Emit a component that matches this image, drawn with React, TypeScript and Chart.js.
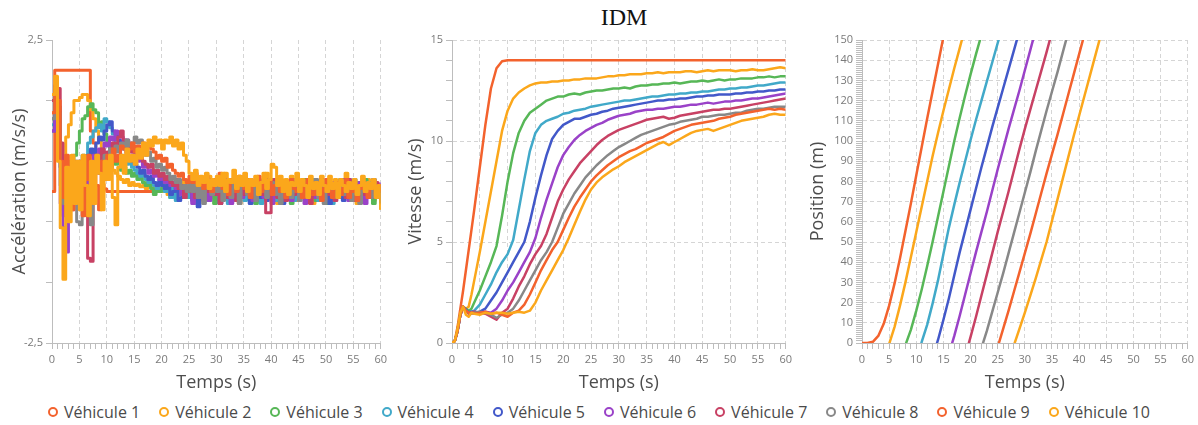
import React, { useEffect, useRef } from 'react';
import { Chart, registerables } from 'chart.js';

Chart.register(...registerables);
Chart.defaults.font.family = "'Open Sans', 'Noto Sans', sans-serif";

const TITLE = 'IDM';
const X_TITLE = 'Temps (s)';
const Y_TITLES = ['Accélération (m/s/s)', 'Vitesse (m/s)', 'Position (m)'];
const VEHICLES = ['Véhicule 1', 'Véhicule 2', 'Véhicule 3', 'Véhicule 4', 'Véhicule 5', 'Véhicule 6', 'Véhicule 7', 'Véhicule 8', 'Véhicule 9', 'Véhicule 10'];
const COLORS = ['#f3622d', '#fba71b', '#57b757', '#41a9c9', '#4258c9', '#9a42c8', '#c84164', '#888888', '#f3622d', '#fba71b'];
const ACC_Y_TICKS = [-2.5, -1.5, -0.5, 0.5, 1.5, 2.5];

// ---------- Acceleration (m/s/s), every 0.5 s ----------
const ACC_T = [
  0,0.5,1,1.5,2,2.5,3,3.5,4,4.5,
  5,5.5,6,6.5,7,7.5,8,8.5,9,9.5,
  10,10.5,11,11.5,12,12.5,13,13.5,14,14.5,
  15,15.5,16,16.5,17,17.5,18,18.5,19,19.5,
  20,20.5,21,21.5,22,22.5,23,23.5,24,24.5,
  25,25.5,26,26.5,27,27.5,28,28.5,29,29.5,
  30,30.5,31,31.5,32,32.5,33,33.5,34,34.5,
  35,35.5,36,36.5,37,37.5,38,38.5,39,39.5,
  40,40.5,41,41.5,42,42.5,43,43.5,44,44.5,
  45,45.5,46,46.5,47,47.5,48,48.5,49,49.5,
  50,50.5,51,51.5,52,52.5,53,53.5,54,54.5,
  55,55.5,56,56.5,57,57.5,58,58.5,59,59.5,
  60,
];
const ACC_V1 = [
  0,2,2,2,2,2,2,2,2,2,
  2,2,2,2,1.0,0.8,0.55,0.3,0.12,0.04,
  0,0,0,0,0,0,0,0,0,0,
  0,0,0,0,0,0,0,0,0,0,
  0,0,0,0,0,0,0,0,0,0,
  0,0,0,0,0,0,0,0,0,0,
  0,0,0,0,0,0,0,0,0,0,
  0,0,0,0,0,0,0,0,0,0,
  0,0,0,0,0,0,0,0,0,0,
  0,0,0,0,0,0,0,0,0,0,
  0,0,0,0,0,0,0,0,0,0,
  0,0,0,0,0,0,0,0,0,0,
  0,
];
const ACC_V2 = [
  1.3,1.7,1.4,0.6,0.4,0.9,1.1,1.3,1.5,1.5,
  1.55,1.6,1.6,1.5,1.35,1.2,1.0,0.85,0.7,0.6,
  0.5,0.45,0.35,0.3,0.25,0.2,0.15,0.2,0.1,0.15,
  0.1,0.12,0.08,0.1,0.05,0.08,0.1,0.03,0.06,0.05,
  0.0,0.1,-0.05,0.15,0.05,-0.1,0.1,0.0,0.2,-0.05,
  0.05,-0.1,0.12,0.0,0.2,-0.05,0.1,0.25,-0.1,0.05,
  0.15,-0.15,0.1,0.3,0.0,-0.1,0.2,0.05,-0.2,0.1,
  0.25,0.0,-0.05,0.15,-0.15,0.2,0.1,-0.1,0.3,0.05,
  -0.05,0.2,-0.2,0.1,0.0,0.15,-0.1,0.25,0.05,-0.15,
  0.1,0.2,-0.05,0.0,0.15,-0.2,0.1,0.05,0.25,-0.1,
  0.0,0.15,-0.15,0.2,0.05,-0.05,0.1,0.3,-0.1,0.0,
  0.15,-0.2,0.1,0.05,-0.1,0.2,0.0,-0.15,0.1,0.05,
  -0.3,
];
const ACC_V3 = [
  1.2,1.6,1.3,0.4,-0.2,0.3,0.5,0.4,0.6,0.8,
  1.0,1.2,1.25,1.4,1.45,1.35,1.3,1.1,1.15,0.95,
  0.8,0.7,0.6,0.45,0.5,0.35,0.4,0.3,0.35,0.25,
  0.3,0.2,0.25,0.15,0.1,0.2,0.05,-0.05,0.1,0.0,
  0.05,0.15,0.0,-0.1,0.05,0.1,-0.05,0.0,0.1,-0.1,
  0.1,-0.05,0.15,-0.15,0.05,0.2,-0.1,0.0,0.1,-0.2,
  0.05,0.15,-0.1,0.2,0.0,-0.05,0.1,-0.15,0.15,0.05,
  -0.1,0.2,0.0,0.1,-0.2,0.05,0.15,-0.05,0.1,-0.1,
  0.2,0.0,-0.15,0.1,0.05,-0.05,0.15,-0.2,0.1,0.0,
  0.05,-0.1,0.2,0.1,-0.05,0.15,-0.15,0.0,0.1,0.05,
  -0.2,0.15,0.0,0.1,-0.1,0.2,0.05,-0.05,0.1,-0.15,
  0.0,0.15,-0.1,0.05,0.2,-0.05,0.1,-0.2,0.05,0.1,
  0.0,
];
const ACC_V4 = [
  1.1,1.6,1.4,0.5,-0.3,0.1,0.4,-0.2,0.3,0.5,
  0.3,0.6,0.5,0.8,0.9,1.0,1.05,1.1,1.0,1.2,
  1.15,1.05,0.95,0.8,0.75,0.6,0.55,0.45,0.5,0.4,
  0.35,0.3,0.25,0.3,0.2,0.15,0.2,0.1,0.05,0.15,
  0.1,0.0,0.05,-0.1,0.1,-0.15,0.05,0.1,0.0,-0.05,
  -0.1,0.05,-0.2,0.1,0.0,0.15,-0.15,0.05,0.2,-0.05,
  0.1,-0.1,0.0,0.15,-0.2,0.05,0.1,-0.05,0.2,0.0,
  -0.15,0.1,0.05,-0.1,0.15,0.0,-0.2,0.1,0.2,-0.05,
  0.05,-0.15,0.15,0.0,0.1,-0.1,0.05,0.2,-0.15,0.0,
  0.1,0.05,-0.1,0.15,-0.05,0.2,0.0,-0.15,0.1,0.05,
  -0.05,0.15,-0.2,0.1,0.0,0.05,-0.1,0.15,0.1,-0.05,
  0.2,-0.15,0.0,0.1,-0.05,0.15,0.05,-0.1,0.0,0.1,
  0.05,
];
const ACC_V5 = [
  1.0,1.5,1.3,0.4,-0.4,0.2,-0.1,0.3,0.1,0.4,
  0.2,0.5,0.4,0.6,0.7,0.6,0.8,0.9,0.85,1.0,
  1.1,1.15,1.0,0.95,0.85,0.8,0.7,0.65,0.55,0.5,
  0.45,0.4,0.3,0.35,0.25,0.2,0.25,0.15,0.1,0.2,
  0.1,0.05,0.15,-0.05,0.0,0.1,-0.15,-0.1,0.05,0.0,
  0.0,-0.15,0.1,-0.25,0.05,0.15,-0.1,0.2,-0.05,0.0,
  0.1,-0.2,0.15,0.05,-0.1,0.0,0.2,-0.15,0.1,0.05,
  -0.05,0.15,-0.2,0.0,0.1,0.2,-0.1,0.05,-0.15,0.1,
  0.0,0.15,-0.05,0.2,-0.2,0.05,0.1,-0.1,0.15,0.0,
  -0.05,0.1,0.05,-0.15,0.2,0.0,-0.1,0.15,-0.05,0.1,
  0.05,-0.2,0.1,0.0,0.15,-0.1,-0.15,0.05,0.2,0.0,
  -0.1,0.1,0.05,-0.15,0.15,0.0,-0.05,0.2,-0.1,0.05,
  0.1,
];
const ACC_V6 = [
  1.0,1.5,1.2,-0.2,-0.6,-1.0,-0.3,0.2,-0.1,0.3,
  0.5,0.1,0.3,-0.2,0.4,0.6,0.5,0.7,0.6,0.8,
  0.75,0.9,0.85,1.0,0.95,0.9,0.8,0.85,0.7,0.65,
  0.6,0.5,0.55,0.4,0.45,0.3,0.35,0.25,0.3,0.2,
  0.25,0.15,0.2,0.1,0.15,0.05,0.1,-0.05,0.1,0.0,
  0.1,-0.2,0.05,0.15,-0.1,0.0,0.2,-0.15,0.1,-0.05,
  0.15,0.0,-0.1,0.2,0.05,-0.2,0.1,0.0,0.15,-0.1,
  0.05,0.2,-0.05,-0.15,0.1,0.0,0.15,-0.1,0.05,0.2,
  -0.2,0.1,0.0,0.05,-0.1,0.15,0.1,-0.15,0.0,0.2,
  -0.05,0.1,-0.2,0.05,0.15,0.0,-0.1,0.1,0.2,-0.15,
  0.05,0.0,0.15,-0.1,0.1,-0.05,0.2,0.0,-0.15,0.1,
  0.05,-0.1,0.15,0.0,-0.2,0.1,0.05,0.15,-0.05,0.0,
  0.15,
];
const ACC_V7 = [
  1.5,1.75,1.7,0.8,0.2,-0.4,0.3,-0.3,0.5,0.2,
  -0.2,0.4,0.1,-1.1,-1.15,0.3,0.6,0.4,0.7,0.5,
  0.65,0.6,0.8,0.7,0.9,1.0,0.85,0.75,0.8,0.65,
  0.7,0.55,0.6,0.5,0.45,0.4,0.45,0.3,0.35,0.25,
  0.3,0.2,0.25,0.15,0.1,0.2,0.05,0.1,-0.1,0.05,
  0.0,0.15,-0.1,0.2,0.05,-0.15,0.1,0.0,0.2,-0.05,
  0.1,-0.2,0.15,0.05,-0.1,0.2,0.0,-0.15,0.1,0.15,
  -0.05,0.05,0.2,-0.1,0.0,0.15,-0.05,0.1,-0.35,-0.35,
  0.1,0.2,-0.1,0.05,0.15,-0.15,0.0,0.1,-0.05,0.2,
  0.05,-0.1,0.15,0.0,-0.2,0.1,0.05,0.15,-0.1,0.0,
  0.2,-0.05,0.1,-0.15,0.05,0.15,0.0,-0.1,0.2,0.05,
  -0.15,0.1,0.0,0.15,-0.05,0.1,-0.1,0.05,0.15,0.0,
  0.05,
];
const ACC_V8 = [
  1.2,1.6,1.3,0.1,-0.2,0.4,-0.1,0.5,0.2,-0.5,
  -0.55,0.3,0.5,0.2,-0.55,0.4,0.6,0.3,0.5,0.6,
  0.5,0.7,0.6,0.75,0.65,0.8,0.7,0.85,0.75,0.8,
  0.9,0.8,0.85,0.7,0.6,0.65,0.5,0.55,0.4,0.45,
  0.35,0.4,0.3,0.2,0.25,0.15,0.2,0.05,0.1,0.0,
  0.15,0.0,0.2,-0.1,0.1,-0.2,0.05,0.15,-0.05,0.1,
  0.0,0.2,-0.15,0.1,0.05,-0.1,0.15,0.0,-0.2,0.1,
  0.2,-0.05,0.05,0.15,-0.15,0.1,0.0,0.2,-0.1,0.05,
  0.15,-0.05,0.1,-0.2,0.0,0.15,0.05,-0.1,0.2,0.0,
  -0.15,0.1,0.05,0.15,-0.05,0.0,0.2,-0.1,0.1,-0.2,
  0.05,0.15,0.0,-0.1,0.1,0.2,-0.05,0.0,0.15,-0.15,
  0.1,0.05,-0.2,0.15,0.0,0.1,-0.1,0.2,-0.05,0.05,
  -0.2,
];
const ACC_V9 = [
  1.3,1.7,1.5,0.5,-0.1,0.6,0.2,-0.3,0.4,0.1,
  0.5,-0.4,0.2,0.6,-0.2,0.4,0.1,-0.3,0.5,0.2,
  0.6,0.4,0.7,0.5,0.6,0.75,0.7,0.6,0.7,0.8,
  0.65,0.75,0.7,0.8,0.75,0.8,0.7,0.65,0.55,0.6,
  0.5,0.55,0.4,0.45,0.35,0.3,0.25,0.3,0.2,0.15,
  0.25,0.15,0.3,0.1,0.2,0.05,0.25,0.1,0.0,0.2,
  0.15,0.3,0.05,0.1,-0.05,0.2,0.15,0.0,0.25,0.1,
  0.05,0.2,-0.1,0.15,0.1,0.25,0.0,0.15,0.05,0.2,
  -0.05,0.1,0.2,0.0,0.15,-0.1,0.1,0.2,0.05,0.0,
  0.15,-0.1,0.1,0.2,0.0,-0.05,0.15,0.1,-0.15,0.05,
  0.2,0.0,-0.1,0.1,0.15,-0.05,0.05,0.2,-0.1,0.0,
  0.1,-0.15,0.05,0.15,0.0,-0.1,0.1,0.05,-0.05,0.1,
  0.0,
];
const ACC_V10 = [
  1.6,1.9,0.5,-0.6,-1.45,0.4,-0.5,0.6,-0.2,0.5,
  -0.3,0.6,0.1,-0.4,0.5,-0.2,0.6,0.3,-0.3,0.5,
  0.2,0.6,-0.1,-0.55,0.4,0.6,0.3,0.7,0.5,0.6,
  0.45,0.7,0.55,0.8,0.6,0.85,0.75,0.9,0.8,0.85,
  0.7,0.85,0.8,0.9,0.75,0.85,0.7,0.8,0.6,0.5,
  0.3,0.2,0.35,0.1,0.25,0.15,0.3,0.05,0.2,0.1,
  0.25,0.1,0.3,0.0,0.2,0.15,0.35,0.05,0.25,0.1,
  0.3,0.0,0.2,0.1,0.25,-0.05,0.15,0.3,0.05,0.2,
  0.45,0.4,0.1,0.25,0.0,0.2,-0.05,0.15,0.1,0.3,
  0.0,0.2,0.1,-0.1,0.25,0.05,0.15,-0.05,0.2,0.1,
  0.0,0.25,0.05,0.15,-0.1,0.2,0.1,0.0,0.15,0.05,
  0.2,-0.05,0.1,0.25,0.0,0.15,0.05,0.2,-0.1,0.1,
  -0.3,
];

// ---------- Speed (m/s) ----------
const VEL_T = [0,0.5,1,1.5,2,2.5,3,3.5,4,
  5,6,7,8,9,10,11,12,13,14,
  15,16,17,18,19,20,21,22,23,24,
  25,26,27,28,29,30,31,32,33,34,
  35,36,37,38,39,40,41,42,43,44,
  45,46,47,48,49,50,51,52,53,54,
  55,56,57,58,59,60];
const VEL_V1 = [0,0.1,0.8,1.7,2.6,3.6,4.6,5.6,6.6,
  8.7,10.8,12.6,13.6,13.95,14.0,14.0,14.0,14.0,14.0,
  14.0,14.0,14.0,14.0,14.0,14.0,14.0,14.0,14.0,14.0,
  14.0,14.0,14.0,14.0,14.0,14.0,14.0,14.0,14.0,14.0,
  14.0,14.0,14.0,14.0,14.0,14.0,14.0,14.0,14.0,14.0,
  14.0,14.0,14.0,14.0,14.0,14.0,14.0,14.0,14.0,14.0,
  14.0,14.0,14.0,14.0,14.0,14.0];
const VEL_V2 = [0,0.1,0.6,1.4,1.8,1.7,1.8,2.4,3.1,
  4.5,6.0,7.5,9.0,10.5,11.5,12.1,12.4,12.6,12.75,
  12.85,12.9,12.9,12.95,12.95,13.0,13.0,13.05,13.05,13.1,
  13.1,13.1,13.15,13.2,13.2,13.25,13.25,13.3,13.3,13.3,
  13.35,13.35,13.4,13.35,13.4,13.4,13.4,13.45,13.45,13.4,
  13.45,13.5,13.45,13.5,13.5,13.5,13.45,13.5,13.5,13.55,
  13.5,13.5,13.55,13.6,13.65,13.6];
const VEL_V3 = [0,0.1,0.6,1.4,1.8,1.7,1.6,1.7,2.0,
  2.6,3.3,4.0,4.8,6.3,8.0,9.4,10.4,11.0,11.4,
  11.6,11.8,12.0,12.1,12.2,12.2,12.3,12.35,12.3,12.4,
  12.45,12.5,12.5,12.55,12.6,12.6,12.65,12.6,12.7,12.75,
  12.75,12.8,12.8,12.85,12.85,12.9,12.85,12.9,12.95,12.95,
  13.0,12.95,13.0,13.05,13.0,13.05,13.05,13.1,13.1,13.1,
  13.15,13.15,13.2,13.15,13.2,13.2];
const VEL_V4 = [0,0.1,0.6,1.4,1.75,1.6,1.5,1.55,1.6,
  1.9,2.4,2.9,3.5,4.0,4.4,5.1,6.6,8.1,9.5,
  10.4,10.8,11.0,11.1,11.2,11.35,11.4,11.5,11.55,11.6,
  11.7,11.75,11.8,11.85,11.9,11.95,12.0,12.0,12.05,12.1,
  12.15,12.2,12.2,12.25,12.3,12.3,12.35,12.35,12.4,12.4,
  12.45,12.45,12.5,12.55,12.55,12.6,12.6,12.65,12.65,12.7,
  12.75,12.75,12.8,12.85,12.9,12.9];
const VEL_V5 = [0,0.1,0.6,1.4,1.8,1.65,1.5,1.55,1.5,
  1.55,1.7,2.1,2.5,3.0,3.5,4.0,4.5,5.0,6.0,
  7.2,8.3,9.3,10.1,10.5,10.8,10.95,11.1,11.1,11.2,
  11.3,11.35,11.45,11.5,11.6,11.65,11.7,11.75,11.8,11.85,
  11.9,11.95,12.0,12.0,12.05,12.05,12.1,12.1,12.15,12.2,
  12.2,12.25,12.25,12.3,12.3,12.3,12.35,12.35,12.4,12.4,
  12.45,12.45,12.5,12.5,12.55,12.55];
const VEL_V6 = [0,0.1,0.6,1.4,1.8,1.6,1.5,1.5,1.55,
  1.5,1.55,1.5,1.7,2.1,2.6,3.0,3.5,4.0,4.5,
  5.2,6.2,7.1,7.9,8.7,9.3,9.7,10.05,10.3,10.5,
  10.65,10.8,10.9,11.05,11.15,11.25,11.3,11.35,11.45,11.5,
  11.55,11.55,11.6,11.6,11.65,11.7,11.7,11.75,11.8,11.8,
  11.85,11.9,11.85,11.9,11.95,11.95,12.0,12.0,12.05,12.1,
  12.1,12.15,12.2,12.25,12.3,12.35];
const VEL_V7 = [0,0.1,0.6,1.4,1.8,1.6,1.45,1.5,1.55,
  1.5,1.45,1.3,1.15,1.5,1.7,2.2,2.8,3.3,3.9,
  4.4,4.8,5.4,6.2,7.0,7.6,8.1,8.5,8.9,9.2,
  9.5,9.8,10.05,10.25,10.4,10.55,10.65,10.75,10.85,10.95,
  11.05,11.1,11.15,11.2,11.1,11.15,11.25,11.3,11.35,11.4,
  11.45,11.5,11.55,11.55,11.6,11.6,11.65,11.7,11.75,11.8,
  11.85,11.9,11.95,12.0,12.05,12.1];
const VEL_V8 = [0,0.1,0.6,1.4,1.8,1.6,1.5,1.45,1.5,
  1.55,1.5,1.4,1.25,1.4,1.5,1.7,2.1,2.6,3.1,
  3.6,4.1,4.5,5.0,5.7,6.4,6.9,7.4,7.8,8.2,
  8.5,8.8,9.05,9.3,9.5,9.7,9.85,10.0,10.15,10.3,
  10.4,10.5,10.6,10.7,10.8,10.85,10.95,11.0,11.05,11.1,
  11.2,11.2,11.25,11.3,11.3,11.35,11.4,11.4,11.5,11.55,
  11.6,11.6,11.65,11.7,11.7,11.7];
const VEL_V9 = [0,0.1,0.6,1.4,1.8,1.6,1.5,1.5,1.45,
  1.5,1.55,1.45,1.5,1.4,1.3,1.5,1.6,1.9,2.4,
  3.0,3.6,4.1,4.6,5.0,5.6,6.2,6.75,7.2,7.6,
  8.0,8.3,8.55,8.8,9.0,9.2,9.35,9.5,9.6,9.75,
  9.9,10.0,10.1,10.2,10.35,10.5,10.6,10.7,10.8,10.85,
  10.9,10.95,11.0,11.1,11.15,11.2,11.3,11.35,11.4,11.45,
  11.5,11.55,11.6,11.55,11.6,11.55];
const VEL_V10 = [0,0.1,0.7,1.5,1.8,1.4,1.3,1.5,1.45,
  1.4,1.5,1.45,1.5,1.5,1.45,1.5,1.55,1.5,1.6,
  2.0,2.6,3.1,3.6,4.1,4.6,5.2,5.85,6.5,7.1,
  7.6,7.95,8.2,8.4,8.6,8.75,8.95,9.1,9.25,9.4,
  9.55,9.7,9.85,9.95,9.8,9.95,10.1,10.25,10.4,10.5,
  10.55,10.6,10.5,10.6,10.7,10.8,10.9,11.0,11.05,11.1,
  11.15,11.2,11.3,11.35,11.3,11.3];

// ---------- Position (m), every 1 s ----------
const POS_T = [0,1,2,3,4,5,6,7,8,9,10,11,12,13,14,15,16,17,18,19,20,21,22,23,24,25,26,27,28,29,30,31,32,33,34,35,36,37,38,39,40,41,42,43,44,45];
const POS_V1 = [0,0,0.6,3.5,9.5,18.5,29.5,42,55.5,69,83,97,111,124.5,138,151.5,165,
  null,null,null,null,null,null,null,null,null,null,null,null,null,null,null,null,null,null,null,null,null,null,null,null,null,null,null,null,null];
const POS_V2 = [null,null,null,null,null,
  -0.5,8,18.5,30,42.5,55,67.5,80,92.5,104,115,125.5,136,146,156,
  null,null,null,null,null,null,null,null,null,null,null,null,null,null,null,null,null,null,null,null,null,null,null,null,null,null];
const POS_V3 = [null,null,null,null,null,null,null,null,
  -1,6.5,16,26.5,38,50,62.5,75,87.5,100,111.5,122.5,133,143,152.5,162,
  null,null,null,null,null,null,null,null,null,null,null,null,null,null,null,null,null,null,null,null,null,null];
const POS_V4 = [null,null,null,null,null,null,null,null,null,null,
  -9,0.5,9,19.5,31,44,57,68.5,79.5,90,100.5,110.5,120,129.5,139,148.5,158,
  null,null,null,null,null,null,null,null,null,null,null,null,null,null,null,null,null,null,null];
const POS_V5 = [null,null,null,null,null,null,null,null,null,null,null,null,null,
  -7,1.5,11.5,22,33.5,45,55.5,66,76.5,87,97,107,116.5,126,135.5,145,154.5,
  null,null,null,null,null,null,null,null,null,null,null,null,null,null,null,null];
const POS_V6 = [null,null,null,null,null,null,null,null,null,null,null,null,null,null,null,null,
  -5.5,3.5,13.5,24,34.5,45,55,65,75.5,86,96,106,115.5,125,135,145,155,
  null,null,null,null,null,null,null,null,null,null,null,null,null];
const POS_V7 = [null,null,null,null,null,null,null,null,null,null,null,null,null,null,null,null,null,null,null,
  -6.5,3,13,23.5,34,44.5,55,65,75,85.5,96,106,115.5,125,134.5,144,154,
  null,null,null,null,null,null,null,null,null,null];
const POS_V8 = [null,null,null,null,null,null,null,null,null,null,null,null,null,null,null,null,null,null,null,null,null,null,
  -2.5,6,15.5,25,34.5,44.5,54.5,64.5,74.5,84.5,95,105,115,124.5,134,144,154,
  null,null,null,null,null,null,null];
const POS_V9 = [null,null,null,null,null,null,null,null,null,null,null,null,null,null,null,null,null,null,null,null,null,null,null,null,null,
  -2,7,16,25.5,35,44.5,54,64,74,84,93.5,103,113,123,133,143,153,
  null,null,null,null];
const POS_V10 = [null,null,null,null,null,null,null,null,null,null,null,null,null,null,null,null,null,null,null,null,null,null,null,null,null,null,null,null,
  -1,7,15,23.5,32,41,50,60.5,71,81.5,92,102.5,112.5,122.5,132.5,142.5,152.5,
  null];

const ACC_SERIES = [ACC_V1, ACC_V2, ACC_V3, ACC_V4, ACC_V5, ACC_V6, ACC_V7, ACC_V8, ACC_V9, ACC_V10];
const VEL_SERIES = [VEL_V1, VEL_V2, VEL_V3, VEL_V4, VEL_V5, VEL_V6, VEL_V7, VEL_V8, VEL_V9, VEL_V10];
const POS_SERIES = [POS_V1, POS_V2, POS_V3, POS_V4, POS_V5, POS_V6, POS_V7, POS_V8, POS_V9, POS_V10];

const AXIS_GREY = '#bdbdbd';
const GRID_GREY = '#d5d5d5';
const TICK_TEXT = '#7a7a7a';
const TITLE_TEXT = '#4d4d4d';
const TRANSPARENT = 'rgba(0,0,0,0)';

function toPoints(times: number[], vals: (number | null)[]) {
  return vals.map((v, i) => ({ x: times[i], y: v }));
}

function makeX(): any {
  return {
    type: 'linear',
    min: 0,
    max: 60,
    ticks: {
      stepSize: 1,
      autoSkip: false,
      maxRotation: 0,
      minRotation: 0,
      color: TICK_TEXT,
      font: { size: 11 },
      padding: 4,
      callback: (v: number) => (v % 5 === 0 ? String(v) : ''),
    },
    grid: {
      color: (c: any) => (c.tick && c.tick.value % 5 === 0 ? GRID_GREY : TRANSPARENT),
      tickColor: AXIS_GREY,
      tickLength: 6,
      lineWidth: 1,
    },
    border: { color: AXIS_GREY, width: 1, dash: [4, 3] },
    title: { display: true, text: X_TITLE, color: TITLE_TEXT, font: { size: 18 }, padding: { top: 0, bottom: 6 } },
    afterFit: (s: any) => { s.height = 57; },
  };
}

type Panel = {
  times: number[];
  series: (number | null)[][];
  yTitle: string;
  yMin: number;
  yMax: number;
  yStep?: number;
  yFixedTicks?: number[];
  yMajor: (v: number) => boolean;
  yLabel: (v: number) => string;
  yGridOnArea: boolean;
  yWidth: number;
  titlePad: number;
  padRight: number;
  lineWidth: number;
  stepped: boolean;
};

function makeConfig(p: Panel): any {
  const y: any = {
    type: 'linear',
    min: p.yMin,
    max: p.yMax,
    ticks: {
      autoSkip: false,
      color: TICK_TEXT,
      font: { size: 11 },
      padding: 3,
      callback: (v: number) => p.yLabel(v),
    },
    grid: {
      drawOnChartArea: p.yGridOnArea,
      color: (c: any) => (c.tick && p.yMajor(c.tick.value) ? GRID_GREY : TRANSPARENT),
      tickColor: AXIS_GREY,
      tickLength: 6,
      lineWidth: 1,
    },
    border: { color: AXIS_GREY, width: 1, dash: [4, 3] },
    title: { display: true, text: p.yTitle, color: TITLE_TEXT, font: { size: 18 }, padding: { top: p.titlePad, bottom: 0 } },
    afterFit: (s: any) => { s.width = p.yWidth; },
  };
  if (p.yStep) y.ticks.stepSize = p.yStep;
  if (p.yFixedTicks) {
    const fixed = p.yFixedTicks;
    y.afterBuildTicks = (s: any) => { s.ticks = fixed.map((v) => ({ value: v })); };
  }
  return {
    type: 'line',
    data: {
      datasets: p.series.map((vals, k) => ({
        label: VEHICLES[k],
        data: toPoints(p.times, vals),
        borderColor: COLORS[k],
        backgroundColor: COLORS[k],
        borderWidth: p.lineWidth,
        borderJoinStyle: 'round',
        pointRadius: 0,
        tension: 0,
        stepped: p.stepped,
        fill: false,
        spanGaps: false,
        order: VEHICLES.length - k,
      })),
    },
    options: {
      responsive: false,
      animation: false,
      devicePixelRatio: 1,
      events: [],
      layout: { padding: { top: 10, right: p.padRight, bottom: 0, left: 0 } },
      plugins: { legend: { display: false }, tooltip: { enabled: false }, title: { display: false } },
      scales: { x: makeX(), y },
    },
  };
}

const fmtComma = (v: number) => String(v).replace('.', ',');

export default function App() {
  const r1 = useRef<HTMLCanvasElement>(null);
  const r2 = useRef<HTMLCanvasElement>(null);
  const r3 = useRef<HTMLCanvasElement>(null);

  useEffect(() => {
    const charts: Chart[] = [];
    charts.push(new Chart(r1.current as HTMLCanvasElement, makeConfig({
      times: ACC_T,
      series: ACC_SERIES,
      yTitle: Y_TITLES[0],
      yMin: -2.5,
      yMax: 2.5,
      yFixedTicks: ACC_Y_TICKS,
      yMajor: () => false,
      yLabel: (v) => (v === 2.5 || v === -2.5 ? fmtComma(v) : ''),
      yGridOnArea: false,
      yWidth: 52,
      titlePad: 9,
      padRight: 10,
      lineWidth: 3,
      stepped: true,
    })));
    charts.push(new Chart(r2.current as HTMLCanvasElement, makeConfig({
      times: VEL_T,
      series: VEL_SERIES,
      yTitle: Y_TITLES[1],
      yMin: 0,
      yMax: 15,
      yStep: 1,
      yMajor: (v) => v % 5 === 0,
      yLabel: (v) => (v % 5 === 0 ? String(v) : ''),
      yGridOnArea: true,
      yWidth: 52,
      titlePad: 5,
      padRight: 10,
      lineWidth: 2.5,
      stepped: false,
    })));
    charts.push(new Chart(r3.current as HTMLCanvasElement, makeConfig({
      times: POS_T,
      series: POS_SERIES,
      yTitle: Y_TITLES[2],
      yMin: 0,
      yMax: 150,
      yStep: 1,
      yMajor: (v) => v % 10 === 0,
      yLabel: (v) => (v % 10 === 0 ? String(v) : ''),
      yGridOnArea: true,
      yWidth: 62,
      titlePad: 7,
      padRight: 8,
      lineWidth: 2.5,
      stepped: false,
    })));
    return () => { charts.forEach((c) => c.destroy()); };
  }, []);

  return (
    <div style={{ position: 'absolute', left: 0, top: 0, width: 1198, height: 425, background: '#ffffff', overflow: 'hidden' }}>
      <div style={{ position: 'absolute', left: 574, top: 3, width: 100, textAlign: 'center', fontFamily: "'Liberation Serif', 'DejaVu Serif', serif", fontSize: 24, lineHeight: '28px', color: '#111111' }}>{TITLE}</div>
      <canvas ref={r1} width={391} height={370} style={{ position: 'absolute', left: 0, top: 30 }} />
      <canvas ref={r2} width={396} height={370} style={{ position: 'absolute', left: 400, top: 30 }} />
      <canvas ref={r3} width={398} height={370} style={{ position: 'absolute', left: 800, top: 30 }} />
      <div style={{ position: 'absolute', left: 0, top: 400, width: 1198, height: 24, display: 'flex', justifyContent: 'center', alignItems: 'center', gap: 19, fontFamily: "'Open Sans', 'Noto Sans', sans-serif", fontSize: 16, color: '#4a4a4a' }}>
        {VEHICLES.map((name, k) => (
          <div key={name} style={{ display: 'flex', alignItems: 'center', whiteSpace: 'nowrap' }}>
            <span style={{ display: 'inline-block', boxSizing: 'border-box', width: 10, height: 10, border: `2.5px solid ${COLORS[k]}`, borderRadius: '50%', background: '#ffffff', marginRight: 6 }} />
            <span>{name}</span>
          </div>
        ))}
      </div>
    </div>
  );
}
